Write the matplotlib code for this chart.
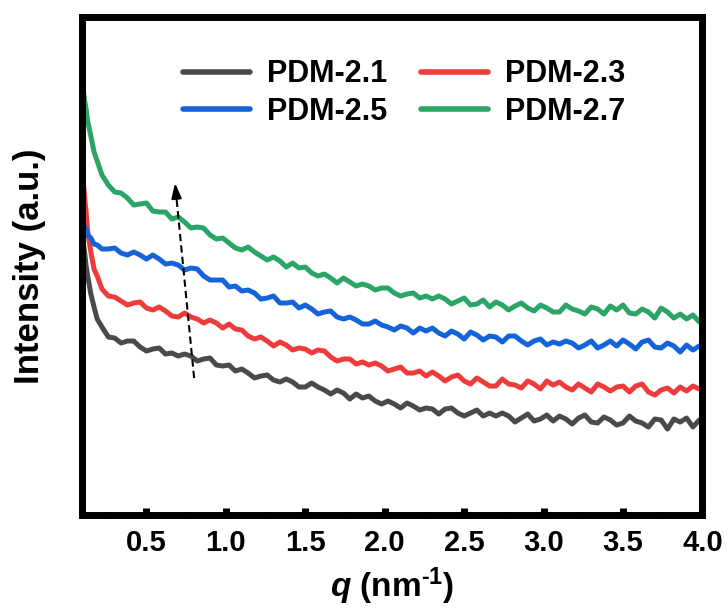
import matplotlib
matplotlib.use("Agg")
import matplotlib.pyplot as plt

plt.rcParams["font.family"] = ["Liberation Sans", "DejaVu Sans"]
plt.rcParams["font.weight"] = "bold"
plt.rcParams["mathtext.fontset"] = "custom"
plt.rcParams["mathtext.rm"] = "Liberation Sans:bold"
plt.rcParams["mathtext.bf"] = "Liberation Sans:bold"
plt.rcParams["mathtext.it"] = "Liberation Sans:italic:bold"
plt.rcParams["mathtext.bfit"] = "Liberation Sans:italic:bold"

# scattering vector q (nm^-1)
q = [0.10, 0.11, 0.12, 0.13, 0.15, 0.17, 0.19, 0.22, 0.26,
     0.30, 0.34, 0.38, 0.42, 0.46, 0.50, 0.54, 0.58, 0.62, 0.66,
     0.70, 0.74, 0.78, 0.82, 0.86, 0.90, 0.94, 0.98, 1.02, 1.06,
     1.10, 1.14, 1.18, 1.22, 1.26, 1.30, 1.34, 1.38, 1.42, 1.46,
     1.50, 1.54, 1.58, 1.62, 1.66, 1.70, 1.74, 1.78, 1.82, 1.86,
     1.90, 1.94, 1.98, 2.02, 2.06, 2.10, 2.14, 2.18, 2.22, 2.26,
     2.30, 2.34, 2.38, 2.42, 2.46, 2.50, 2.54, 2.58, 2.62, 2.66,
     2.70, 2.74, 2.78, 2.82, 2.86, 2.90, 2.94, 2.98, 3.02, 3.06,
     3.10, 3.14, 3.18, 3.22, 3.26, 3.30, 3.34, 3.38, 3.42, 3.46,
     3.50, 3.54, 3.58, 3.62, 3.66, 3.70, 3.74, 3.78, 3.82, 3.86,
     3.90, 3.94, 3.98, 4.00]

# intensities (a.u., curves stacked for clarity)
pdm_21 = [275, 263, 249, 239, 221, 208, 196, 188, 178,
          177, 172, 174, 174, 168, 164, 166, 167, 161, 162,
          159, 161, 159, 154, 156, 157, 150, 149, 150, 144,
          146, 142, 137, 139, 140, 135, 133, 136, 133, 128,
          128, 132, 128, 125, 121, 125, 122, 116, 121, 117,
          119, 114, 111, 114, 111, 107, 112, 109, 105, 107,
          106, 101, 106, 107, 102, 99, 102, 105, 99, 102,
          99, 102, 99, 93, 97, 101, 94, 96, 100, 94,
          99, 96, 91, 97, 100, 93, 92, 98, 95, 90,
          92, 99, 94, 92, 88, 96, 95, 86, 96, 93,
          97, 88, 95, 92]

pdm_23 = [338, 319, 303, 283, 263, 246, 239, 226, 219,
          218, 214, 210, 212, 213, 207, 205, 208, 204, 199,
          198, 202, 198, 196, 192, 195, 192, 187, 191, 186,
          185, 179, 176, 178, 174, 169, 173, 170, 165, 167,
          166, 162, 165, 164, 158, 154, 156, 156, 151, 153,
          150, 152, 149, 144, 146, 148, 142, 142, 144, 139,
          143, 139, 134, 138, 140, 134, 131, 137, 133, 129,
          129, 136, 131, 130, 127, 134, 131, 126, 134, 130,
          133, 128, 125, 131, 127, 123, 131, 128, 124, 128,
          129, 123, 129, 131, 123, 120, 125, 127, 122, 128,
          124, 129, 126, 128]

pdm_25 = [293, 288, 286, 280, 277, 271, 270, 266, 266,
          267, 262, 260, 263, 260, 256, 260, 256, 251, 252,
          250, 245, 247, 246, 239, 235, 235, 235, 228, 229,
          224, 225, 222, 216, 217, 219, 212, 212, 213, 207,
          210, 206, 201, 203, 204, 198, 196, 198, 195, 191,
          191, 194, 190, 188, 185, 189, 187, 182, 187, 184,
          187, 182, 179, 184, 181, 176, 183, 180, 175, 179,
          178, 173, 179, 179, 174, 170, 174, 176, 170, 173,
          171, 174, 172, 167, 170, 174, 167, 170, 174, 169,
          175, 171, 166, 173, 175, 168, 167, 172, 169, 163,
          170, 165, 169, 167]

pdm_27 = [428, 415, 406, 394, 379, 363, 354, 340, 330,
          323, 322, 317, 310, 311, 312, 304, 303, 303, 296,
          298, 293, 287, 288, 287, 280, 276, 277, 272, 267,
          265, 268, 263, 259, 255, 258, 254, 248, 252, 247,
          248, 242, 239, 241, 237, 232, 237, 233, 229, 231,
          229, 225, 227, 227, 222, 219, 221, 222, 217, 219,
          216, 219, 216, 211, 214, 217, 210, 211, 215, 208,
          213, 210, 205, 209, 212, 207, 204, 210, 207, 203,
          203, 210, 206, 204, 201, 208, 206, 201, 209, 205,
          210, 202, 201, 206, 203, 197, 207, 203, 197, 201,
          196, 200, 193, 201]

labels = ["PDM-2.1", "PDM-2.3", "PDM-2.5", "PDM-2.7"]
colors = ["#4a4a4a", "#ee3b3b", "#1463d8", "#2aa566"]
series = [pdm_21, pdm_23, pdm_25, pdm_27]

fig = plt.figure(figsize=(7.28, 6.14), dpi=100)
ax = fig.add_axes([0.1126, 0.1612, 0.8523, 0.8111])

lines = {}
for lab, col, y in zip(labels, colors, series):
    (ln,) = ax.plot(q, y, color=col, lw=3.6, solid_joinstyle="round", label=lab)
    lines[lab] = ln

ax.set_xlim(0.094, 4.0)
ax.set_ylim(0, 498)

# dashed trend arrow
tail = (0.80, 137)
head = (0.68, 332)
ax.plot([tail[0], 0.692], [tail[1], 312], color="black", lw=1.5, ls=(0, (3.5, 2)))
ax.annotate("", xy=head, xytext=(0.692, 312),
            arrowprops=dict(arrowstyle="-|>,head_length=0.9,head_width=0.3",
                            color="black", lw=1.5, shrinkA=0, shrinkB=0))

for sp in ax.spines.values():
    sp.set_linewidth(5)

ax.set_xticks([0.5, 1.0, 1.5, 2.0, 2.5, 3.0, 3.5, 4.0])
ax.set_xticklabels(["0.5", "1.0", "1.5", "2.0", "2.5", "3.0", "3.5", "4.0"])
ax.set_xticks([0.25, 0.75, 1.25, 1.75, 2.25, 2.75, 3.25, 3.75], minor=True)
ax.tick_params(axis="x", which="major", direction="in", length=5, width=5,
               labelsize=21, pad=10)
ax.tick_params(axis="x", which="minor", direction="in", length=2, width=5)
ax.set_yticks([])
for t in ax.get_xticklabels():
    t.set_fontweight("bold")

ax.set_xlabel(r"$\mathbfit{q}$ (nm$^{\text{-1}}$)", fontsize=24,
              fontweight="bold", labelpad=6)
ax.set_ylabel("Intensity (a.u.)", fontsize=25, fontweight="bold", labelpad=26)

handles = [lines["PDM-2.1"], lines["PDM-2.5"], lines["PDM-2.3"], lines["PDM-2.7"]]
leg = ax.legend(handles=handles, labels=[h.get_label() for h in handles],
                ncol=2, frameon=False, loc="upper left",
                bbox_to_anchor=(0.163, 0.915), borderaxespad=0, borderpad=0,
                handlelength=2.2, handletextpad=0.55, columnspacing=1.1,
                labelspacing=0.25,
                prop={"family": "Liberation Sans", "weight": "bold", "size": 22})
for h in leg.get_lines():
    h.set_linewidth(4)
    h.set_solid_capstyle("round")

fig.savefig("out.png", dpi=100)
